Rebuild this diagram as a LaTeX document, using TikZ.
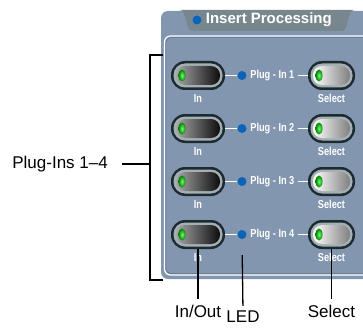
\documentclass[tikz,border=0pt]{standalone}
\usepackage{fontspec}
\setmainfont{Liberation Sans}
\newfontfamily\panelfont[FakeStretch=0.8]{Liberation Sans}
\usepackage{xcolor}
\usepackage{tikz}
\usetikzlibrary{positioning, calc}

\definecolor{panelblue}{HTML}{8296AF}
\definecolor{tabgray}{HTML}{78878D}
\definecolor{rimdark}{HTML}{1C2B30}
\definecolor{ringgray}{HTML}{A5B0B6}
\definecolor{ledblue}{HTML}{0B64B8}

% layers inside a button: ring, body, green lamp
\newcommand{\btnface}[2]{%
  \fill[ringgray, rounded corners=11.5pt] ([shift={(2.5pt,2.5pt)}]path picture bounding box.south west) rectangle ([shift={(-2.5pt,-2.5pt)}]path picture bounding box.north east);
  \shade[left color=#1, right color=#2, rounded corners=9pt] ([shift={(5pt,5pt)}]path picture bounding box.south west) rectangle ([shift={(-5pt,-5pt)}]path picture bounding box.north east);
  \shade[inner color=green!55!white, outer color=green!50!black] ([xshift=11pt]path picture bounding box.west) ellipse (3.5pt and 6pt);
}

\begin{document}
\begin{tikzpicture}[x=1pt, y=1pt,
    btnbase/.style={rectangle, rounded corners=14pt, minimum height=29pt, inner sep=0pt, fill=rimdark},
    inbtn/.style={btnbase, minimum width=54pt, path picture={\btnface{black!35}{black!95}}},
    selbtn/.style={btnbase, minimum width=47pt, path picture={\btnface{white}{black!50}}},
    lamp/.style={circle, fill=ledblue, minimum size=9pt, inner sep=0pt},
    pnltxt/.style={font=\panelfont\bfseries\fontsize{11.5}{12}\selectfont, text=white, inner sep=1pt},
    ttltxt/.style={font=\bfseries\fontsize{15}{17}\selectfont, text=white, inner sep=0pt},
    callout/.style={font=\fontsize{17}{20}\selectfont, inner sep=0pt},
    wline/.style={white, line width=1.2pt},
    cline/.style={black, line width=1.3pt}
]
\useasboundingbox (0,0) rectangle (363,327);
\clip (0,0) rectangle (363,327);

% panel
\fill[panelblue, rounded corners=7pt] (375,48) -- (161,48) -- (161,316) -- (375,316) -- cycle;
\fill[tabgray] (180,317) .. controls (187,317) and (185,296) .. (192,296) -- (342,296) .. controls (349,296) and (347,317) .. (354,317) -- cycle;
\draw[white, line width=1.2pt, rounded corners=6pt] (375,291) -- (164.5,291) -- (164.5,52) -- (375,52);
\draw[panelblue!75!black, line width=0.5pt, rounded corners=5pt] (375,289.6) -- (165.9,289.6) -- (165.9,53.4) -- (375,53.4);

% title
\node[lamp] (tled) at (197,307) {};
\node[ttltxt, right=4pt of tled] (title) {Insert Processing};

% plug-in rows
\foreach \i in {1,...,4} {
  \pgfmathsetmacro{\yy}{251.5-53*(\i-1)}
  \node[inbtn] (in\i) at (198,\yy) {};
  \node[selbtn] (sel\i) at (331.5,\yy) {};
  \node[lamp] (led\i) at (242,\yy) {};
  \node[pnltxt, right=2.5pt of led\i] (plug\i) {Plug - In \i};
  \node[pnltxt, below=3pt of in\i] (inlbl\i) {In};
  \node[pnltxt, below=3pt of sel\i] (sellbl\i) {Select};
  \draw[wline] (in\i.east) -- (led\i.west);
  \draw[wline, shorten <=2pt] (plug\i.east) -- (sel\i.west);
}

% callouts
\node[callout] (inout) at (198,16) {In/Out};
\node[callout] (ledcall) at (243,10) {LED};
\node[callout] (selcall) at (331.5,16) {Select};
\node[callout, anchor=east] (plugins) at (108,163) {Plug-Ins 1--4};

\coordinate (brtop) at (163,272);
\coordinate (brbot) at (163,47);
\coordinate (brmid) at (150,163);
\draw[cline] (brtop) -- ++(-13,0) |- (brbot);
\draw[cline, shorten <=14pt] (plugins.east) -- (brmid);
\draw[cline, shorten >=6pt] (in4.south) -- (inout.north);
\draw[cline, shorten <=16pt, shorten >=5pt] (led4.south) -- (ledcall.north);
\draw[cline, shorten >=6pt] (sel4.south) -- (selcall.north);

\end{tikzpicture}
\end{document}
